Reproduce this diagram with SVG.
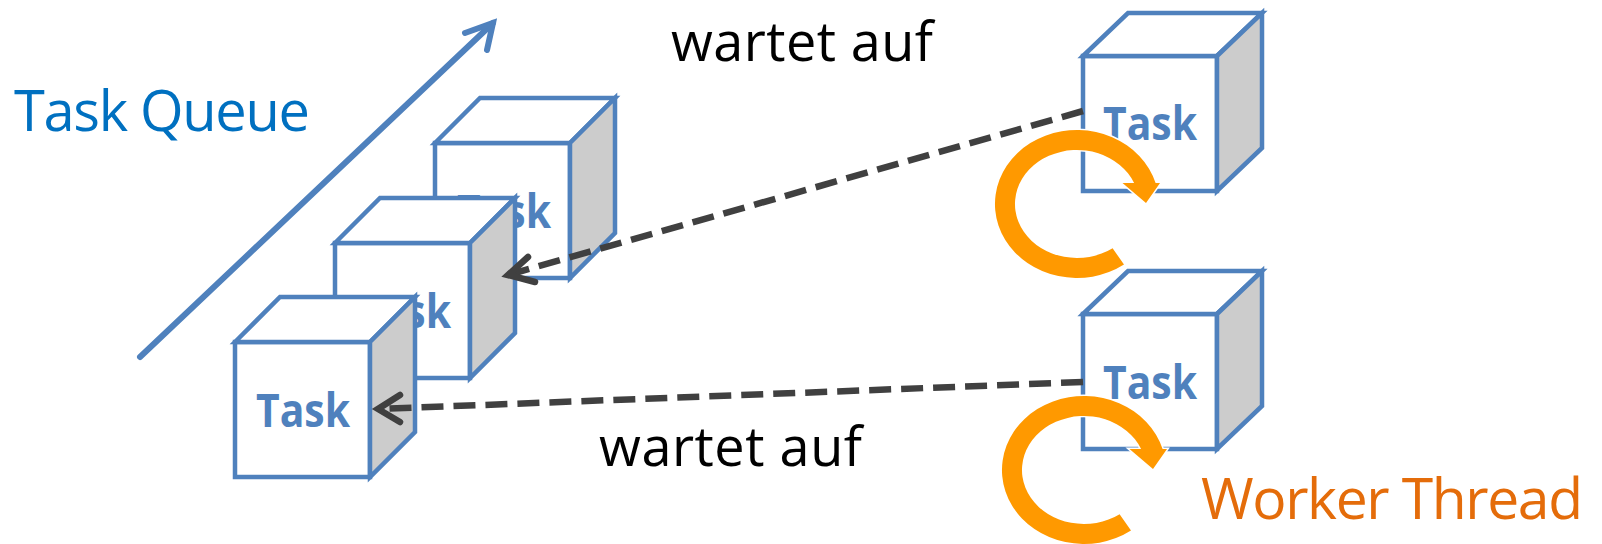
<svg xmlns="http://www.w3.org/2000/svg" width="1602" height="544" viewBox="0 0 1602 544">
  <style>
    .face { fill: #ffffff; stroke: #4F81BD; stroke-width: 4.5; stroke-linejoin: miter; }
    .side { fill: #CCCCCC; stroke: #4F81BD; stroke-width: 4.5; stroke-linejoin: miter; }
    .task { font-family: "Open Sans", "Liberation Sans", sans-serif; font-weight: 700; font-size: 46px; fill: #4F81BD; }
    .label { font-family: "Open Sans", "Liberation Sans", sans-serif; }
    .dash { fill: none; stroke: #404040; stroke-width: 6.5; stroke-dasharray: 22 10; }
    .head { fill: none; stroke: #404040; stroke-width: 6.5; stroke-linecap: round; stroke-linejoin: miter; }
    .queue { fill: none; stroke: #4F81BD; stroke-width: 6; stroke-linecap: round; stroke-linejoin: miter; }
    .loop { fill: #FF9900; stroke: #ffffff; stroke-width: 3; paint-order: stroke; }
  </style>
  <defs>
    <!-- box drawn from the top-left corner of its front face -->
    <g id="cube">
      <rect class="face" x="0" y="0" width="135" height="135"/>
      <path class="face" d="M0,0 L45,-45 L180,-45 L135,0 Z"/>
      <path class="side" d="M135,0 L180,-45 L180,90 L135,135 Z"/>
    </g>
    <g id="cube-w">
      <rect class="face" x="0" y="0" width="134" height="135"/>
      <path class="face" d="M0,0 L45,-43 L179,-43 L134,0 Z"/>
      <path class="side" d="M134,0 L179,-43 L179,92 L134,135 Z"/>
    </g>
    <!-- elliptical loop arrow, centred on the origin -->
    <path id="loop-arrow" class="loop" d="M47,60.6 A82,74 0 1 1 78.6,-21 L83,-21 L69,-1 L45.5,-21 L57.1,-21 A62,54 0 1 0 35.6,44.2 Z"/>
  </defs>

  <rect x="0" y="0" width="1602" height="544" fill="#ffffff"/>

  <!-- queue label and direction -->
  <g id="queue-label">
    <text class="label" x="14" y="131" font-size="56" fill="#0070C0" textLength="296">Task Queue</text>
  </g>
  <g id="queue-direction">
    <path class="queue" d="M140,357 L493,23"/>
    <path class="queue" d="M465,33 L493,23 L487,50"/>
  </g>

  <!-- queued tasks, back to front -->
  <g id="queue-task-3">
    <use href="#cube" x="435" y="143"/>
    <text class="task" x="457" y="228" textLength="94" lengthAdjust="spacingAndGlyphs">Task</text>
  </g>
  <g id="queue-task-2">
    <use href="#cube" x="335" y="243"/>
    <text class="task" x="357" y="328" textLength="94" lengthAdjust="spacingAndGlyphs">Task</text>
  </g>
  <g id="queue-task-1">
    <use href="#cube" x="235" y="342"/>
    <text class="task" x="256" y="427" textLength="94" lengthAdjust="spacingAndGlyphs">Task</text>
  </g>

  <!-- worker threads, each running a task -->
  <g id="worker-1">
    <use href="#cube-w" x="1083" y="56"/>
    <text class="task" x="1103" y="140" textLength="94" lengthAdjust="spacingAndGlyphs">Task</text>
    <use href="#loop-arrow" transform="translate(1077,204)"/>
  </g>
  <g id="worker-2">
    <use href="#cube-w" x="1083" y="314"/>
    <text class="task" x="1103" y="399" textLength="94" lengthAdjust="spacingAndGlyphs">Task</text>
    <use href="#loop-arrow" transform="translate(1084,470)"/>
  </g>

  <!-- waiting relations -->
  <g id="connectors">
    <g id="wait-1">
      <path class="dash" d="M1083,111 L508,275"/>
      <path class="head" d="M528,257 L508,275 L535,282"/>
    </g>
    <g id="wait-2">
      <path class="dash" d="M1083,382 L378,409"/>
      <path class="head" d="M400,395 L378,409 L400,422"/>
    </g>
  </g>

  <g id="labels">
    <text class="label" x="671" y="61" font-size="54" fill="#000000" textLength="262">wartet auf</text>
    <text class="label" x="599" y="466" font-size="54" fill="#000000" textLength="263">wartet auf</text>
    <text class="label" x="1201" y="519" font-size="57" fill="#E46C0A" textLength="382">Worker Thread</text>
  </g>
</svg>
